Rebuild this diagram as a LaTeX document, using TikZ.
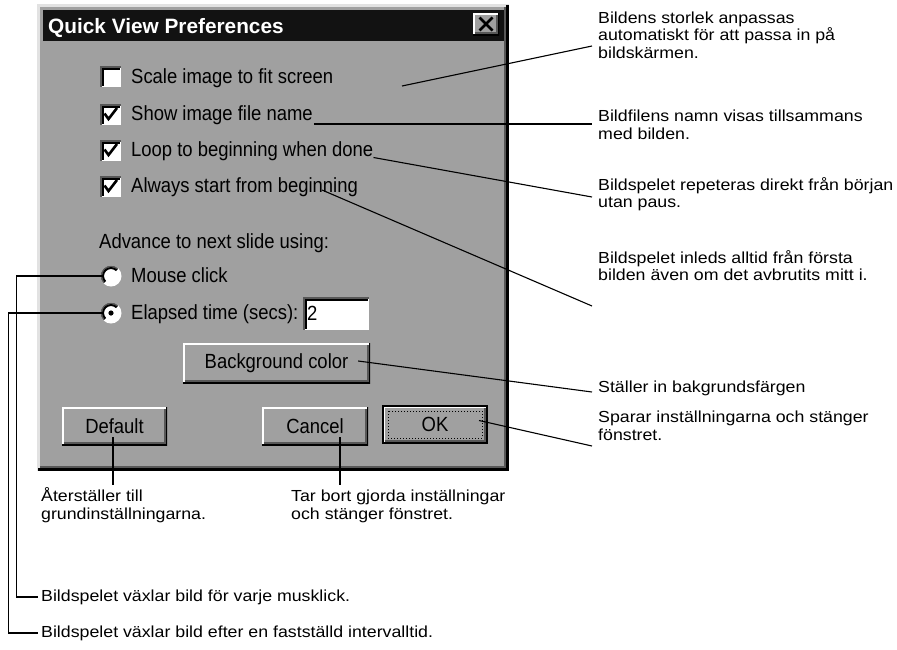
\documentclass[tikz,border=0pt]{standalone}
\usepackage{fontspec}
\setmainfont{Liberation Sans}
\newfontfamily\dlgfam[FakeStretch=0.9]{Liberation Sans}
\newfontfamily\notefam[FakeStretch=1.11]{Liberation Sans}
\definecolor{dlggray}{RGB}{160,160,160}
\definecolor{darkshade}{RGB}{88,88,88}
\definecolor{lightedge}{RGB}{226,226,226}
\newcommand{\dlgfont}{\dlgfam\fontsize{20.5}{22}\selectfont}
\newcommand{\notefont}{\notefam\fontsize{16}{17.5}\selectfont}
\tikzset{
  dlgtext/.style={font=\dlgfont, anchor=base west, inner sep=0pt},
  note/.style={font=\notefont, align=left, anchor=north west, inner xsep=6pt, inner ysep=0pt},
  leader/.style={line width=1.1pt},
  tick/.style={line width=2.6pt},
  raised/.style={fill=dlggray, inner sep=0pt, font=\dlgfont, path picture={
      \draw[white, line width=3pt] (path picture bounding box.south west) |- (path picture bounding box.north east);
      \draw[black, line width=3pt] (path picture bounding box.south west) -| (path picture bounding box.north east);
      \draw[darkshade, line width=2pt] ([shift={(1.5,-2.5)}]path picture bounding box.south west) -| ([shift={(-2.5,1.5)}]path picture bounding box.north east);}},
  sunken/.style={fill=white, inner sep=0pt, path picture={
      \draw[darkshade, line width=3pt] (path picture bounding box.south west) |- (path picture bounding box.north east);
      \draw[black, line width=2pt] ([shift={(2.5,-1.5)}]path picture bounding box.south west) |- ([shift={(-1.5,2.5)}]path picture bounding box.north east);}},
  chkbox/.style={sunken, minimum size=21pt},
  radio/.style={circle, fill=white, inner sep=0pt, minimum size=21pt, path picture={
      \draw[darkshade, line width=3pt] ([shift={(45:10.5pt)}]path picture bounding box.center) arc[start angle=45, end angle=225, radius=10.5pt];
      \draw[black, line width=2pt] ([shift={(45:8pt)}]path picture bounding box.center) arc[start angle=45, end angle=225, radius=8pt];}}
}
\begin{document}
\begin{tikzpicture}[x=1pt, y=-1pt]
    \useasboundingbox[fill=white] (0,0) rectangle (897,649);

    % Dialog frame
    \fill[lightedge] (37,4) rectangle (509,471);
    \fill[dlggray] (39.5,6.5) rectangle (507,469);
    \draw[darkshade, line width=1.5pt] (40,467) -- (505,467) -- (505,7);
    \draw[black, line width=2.5pt] (38,469.5) -- (507.5,469.5) -- (507.5,5);

    % Title bar
    \fill[black!93] (43,10) rectangle (504,41);
    \node[font=\fontsize{20.8}{24}\selectfont\bfseries, text=white, anchor=base west, inner sep=0pt] (title) at (48,33) {Quick View Preferences};
    \node[raised, minimum width=26pt, minimum height=22pt] (closebtn) at (486,24) {};
    \draw[line width=2.6pt] ([shift={(-6.5,-6.5)}]closebtn.center) -- ([shift={(6.5,6.5)}]closebtn.center);
    \draw[line width=2.6pt] ([shift={(-6.5,6.5)}]closebtn.center) -- ([shift={(6.5,-6.5)}]closebtn.center);

    % Check boxes
    \node[chkbox] (scalebox) at (110.5,76.5) {};
    \node[chkbox] (namebox) at (110.5,114.5) {};
    \node[chkbox] (loopbox) at (110.5,150.5) {};
    \node[chkbox] (alwaysbox) at (110.5,186.5) {};
    \draw[tick] ([shift={(-6,-1)}]namebox.center) -- ++(4,5.5) -- ++(8.5,-11);
    \draw[tick] ([shift={(-6,-1)}]loopbox.center) -- ++(4,5.5) -- ++(8.5,-11);
    \draw[tick] ([shift={(-6,-1)}]alwaysbox.center) -- ++(4,5.5) -- ++(8.5,-11);
    \node[dlgtext] (scaletxt) at (131,83) {Scale image to fit screen};
    \node[dlgtext] (nametxt) at (131,120.5) {Show image file name};
    \node[dlgtext] (looptxt) at (131,156.5) {Loop to beginning when done};
    \node[dlgtext] (alwaystxt) at (131,192.5) {Always start from beginning};

    % Advance options
    \node[dlgtext] (advtxt) at (99,248) {Advance to next slide using:};
    \node[radio] (mouseradio) at (111,276) {};
    \node[radio] (timeradio) at (111,313) {};
    \fill (timeradio.center) circle[radius=2.6pt];
    \node[dlgtext] (mousetxt) at (131,282) {Mouse click};
    \node[dlgtext] (timetxt) at (131,319) {Elapsed time (secs):};
    \node[sunken, minimum width=66pt, minimum height=33pt, text width=58pt, align=left, font=\dlgfont] (secsbox) at (336,313.5) {2};

    % Buttons
    \node[raised, minimum width=187pt, minimum height=40pt] (colorbtn) at (276.5,363) {Background color};
    \node[raised, minimum width=105pt, minimum height=38pt] (defbtn) at (114.5,426) {Default};
    \node[raised, minimum width=106pt, minimum height=38pt] (cancelbtn) at (315,426) {Cancel};
    \node[raised, draw=black, line width=2pt, minimum width=104pt, minimum height=37pt] (okbtn) at (435,424.5) {OK};
    \draw[dotted, line width=1pt] ([shift={(6,6)}]okbtn.north west) rectangle ([shift={(-6,-6)}]okbtn.south east);

    % Notes
    \node[note] (sizenote) at (592,11.5) {Bildens storlek anpassas\\automatiskt för att passa in på\\bildskärmen.};
    \node[note] (namenote) at (592,110) {Bildfilens namn visas tillsammans\\med bilden.};
    \node[note] (loopnote) at (592,177) {Bildspelet repeteras direkt från början\\utan paus.};
    \node[note] (alwaysnote) at (592,250) {Bildspelet inleds alltid från första\\bilden även om det avbrutits mitt i.};
    \node[note] (colornote) at (592,381) {Ställer in bakgrundsfärgen};
    \node[note] (oknote) at (592,411) {Sparar inställningarna och stänger\\fönstret.};
    \node[note] (defnote) at (35,487.5) {Återställer till\\grundinställningarna.};
    \node[note] (cancelnote) at (285,490) {Tar bort gjorda inställningar\\och stänger fönstret.};
    \node[note, anchor=west, inner xsep=3pt] (mousenote) at (38,597) {Bildspelet växlar bild för varje musklick.};
    \node[note, anchor=west, inner xsep=3pt] (timenote) at (38,633) {Bildspelet växlar bild efter en fastställd intervalltid.};

    % Leader lines
    \coordinate (scalept) at (402,86);
    \coordinate (alwayspt) at (322,190);
    \coordinate (defend) at (113,485);
    \coordinate (cancelend) at (340,485);
    \draw[leader] (scalept) -- ([shift={(0,34.5)}]sizenote.north west);
    \draw[leader] ([shift={(1,3.5)}]nametxt.base east) -- ([shift={(0,14)}]namenote.north west);
    \draw[leader] ([shift={(0,1)}]looptxt.base east) -- ([shift={(0,20)}]loopnote.north west);
    \draw[leader] (alwayspt) -- ([shift={(0,56)}]alwaysnote.north west);
    \draw[leader] ([shift={(-12,-2)}]colorbtn.east) -- ([shift={(0,11)}]colornote.north west);
    \draw[leader] ([shift={(-9,-4)}]okbtn.east) -- ([shift={(0,35)}]oknote.north west);
    \draw[leader] ([shift={(-1.5,11)}]defbtn.center) -- (defend);
    \draw[leader] ([shift={(25,11)}]cancelbtn.center) -- (cancelend);
    \draw[leader] ([shift={(3,0)}]mouseradio.west) -- ++(-87,0) |- (mousenote.west);
    \draw[leader] ([shift={(3,0)}]timeradio.west) -- ++(-95,0) |- (timenote.west);
\end{tikzpicture}
\end{document}
